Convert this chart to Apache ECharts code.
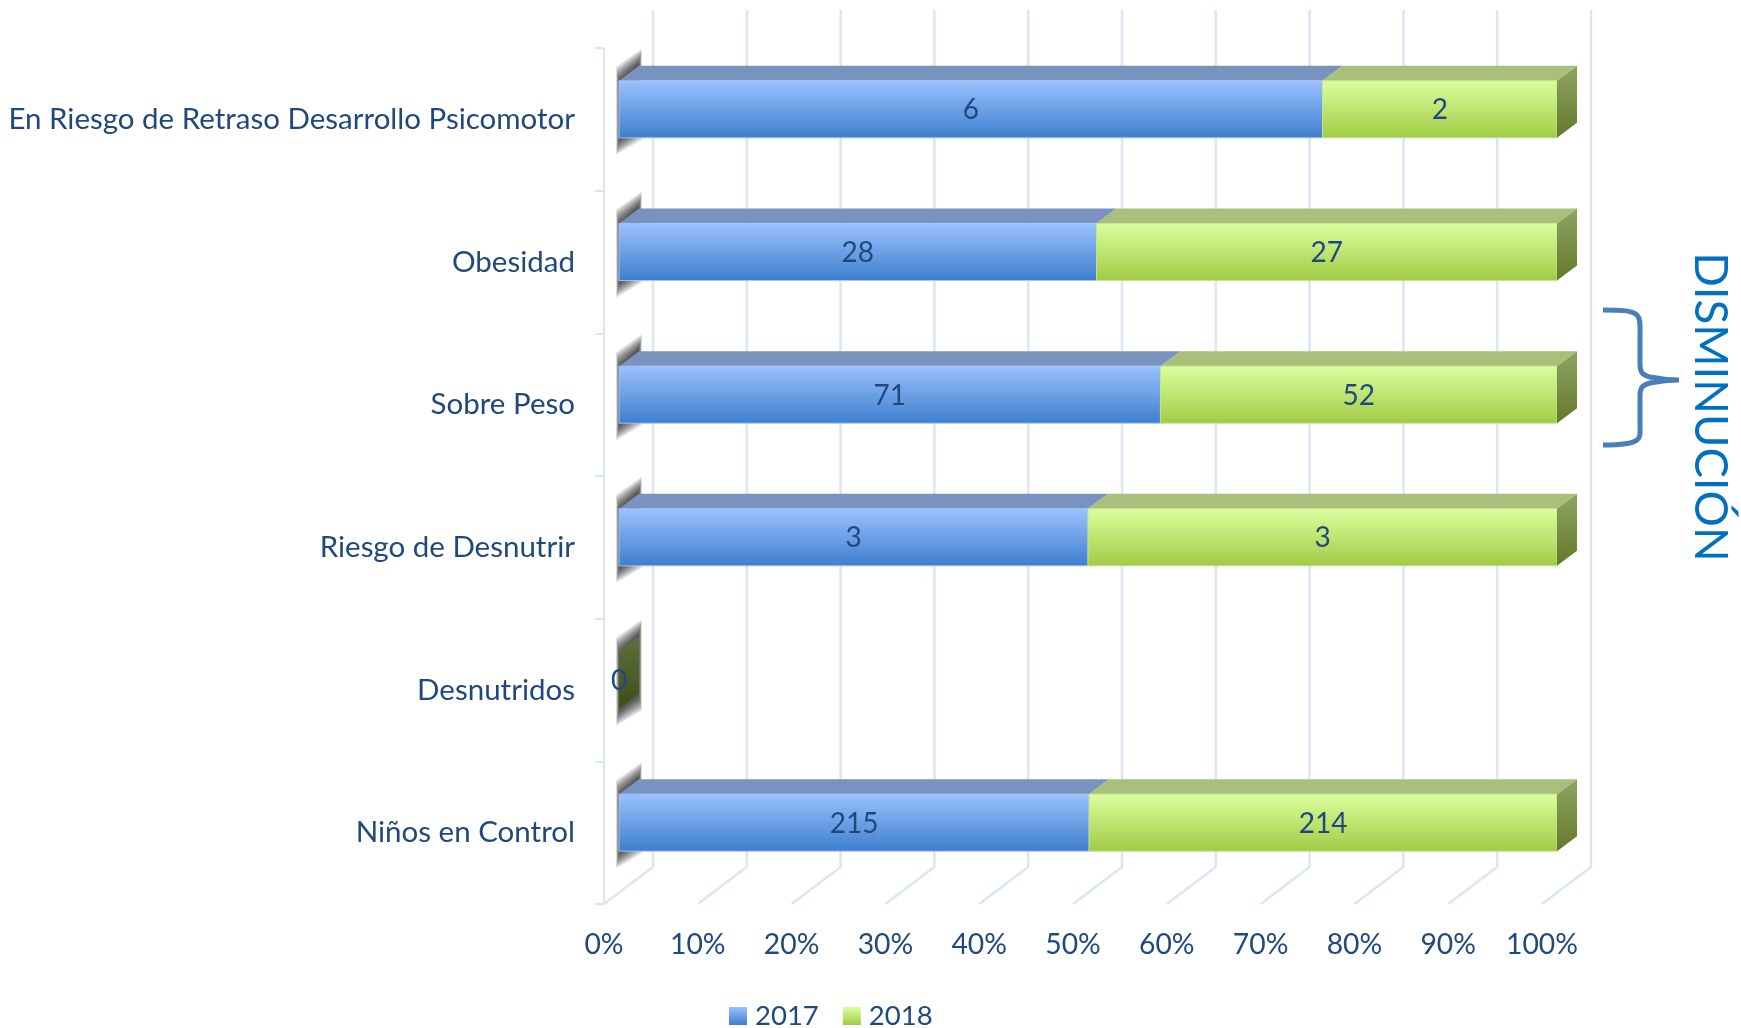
<!DOCTYPE html>
<html>
<head>
<meta charset="utf-8">
<style>
html,body{margin:0;padding:0;background:#fff;}
#chart{width:1741px;height:1028px;}
</style>
<script src="https://cdn.jsdelivr.net/npm/echarts@6/dist/echarts.min.js"></script>
</head>
<body>
<div id="chart"></div>
<script>
// orden de abajo hacia arriba, como el eje de categorias
var categories = ['Niños en Control','Desnutridos','Riesgo de Desnutrir','Sobre Peso','Obesidad','En Riesgo de Retraso Desarrollo Psicomotor'];
var values2017 = [215,0,3,71,28,6];
var values2018 = [214,0,3,52,27,2];
var xTicks = [0,10,20,30,40,50,60,70,80,90,100];

var fontName = 'Lato';
var textColor = '#1f497d';
var gridColor = '#dbe6f5';

// desplazamiento de la barra 3D respecto al plano del eje
var barShiftX = 15, barShiftY = -10;
var depthX = 20, depthY = 15;
// desplazamiento de la pared del fondo
var wallX = 49, wallY = 37;

function vGrad(c0, c1){
	return new echarts.graphic.LinearGradient(0,0,0,1,[{offset:0,color:c0},{offset:1,color:c1}]);
}

var blueStyle = {front:['#9ac2ff','#3e7ecd'],top:'#7992bf',edge:'rgba(170,200,240,.9)'};
var greenStyle = {front:['#dcff9e','#a0cb45'],top:'#a9c07b',edge:'rgba(200,225,150,.9)',side:['#8fa462','#64792a'],sideEmpty:['#5f7040','#3e4e14']};

// de valores a tramos de porcentaje: [inicio, categoria, fin, valor]
function buildRows(isSecond){
	var rows = [];
	for(var i=0;i<categories.length;i++){
		var total = values2017[i]+values2018[i];
		var split = total>0 ? values2017[i]/total*100 : 0;
		if(isSecond){
			rows.push([split,i,total>0?100:0,values2018[i]]);
		}else{
			rows.push([0,i,split,values2017[i]]);
		}
	}
	return rows;
}

// sombra difusa hecha con capas translucidas
function softShadow(x0, yTop, yBot){
	var layers = [];
	for(var k=7;k>=0;k--){
		var gx = k*0.4, gy = k*2;
		layers.push({type:'polygon',shape:{points:[
			[x0-gx,yTop-gy],[x0+depthX+gx,yTop-depthY-3-gy],
			[x0+depthX+gx,yBot-depthY+3+gy],[x0-gx,yBot+3+gy]]},
			style:{fill:'rgba(0,0,0,.12)'}});
	}
	return layers;
}

function renderBar(style, isSecond){
	return function(params, api){
		var a = api.coord([api.value(0),api.value(1)]);
		var b = api.coord([api.value(2),api.value(1)]);
		var h = api.size([0,1])[1]*0.4;
		var x0 = a[0]+barShiftX, x1 = b[0]+barShiftX;
		var yTop = a[1]+barShiftY-h/2, yBot = yTop+h;
		var children = [];
		var empty = api.value(2)===0;
		if(!isSecond){
			children = softShadow(x0,yTop,yBot);
		}
		if(x1>x0){
			children.push({type:'polygon',shape:{points:[[x0,yTop],[x0+depthX,yTop-depthY],[x1+depthX,yTop-depthY],[x1,yTop]]},
				style:{fill:style.top}});
			children.push({type:'rect',shape:{x:x0,y:yTop,width:x1-x0,height:h},
				style:{fill:vGrad(style.front[0],style.front[1]),stroke:style.edge,lineWidth:1}});
		}
		if(isSecond){
			var side = empty ? style.sideEmpty : style.side;
			children.push({type:'polygon',shape:{points:[[x1,yTop],[x1+depthX,yTop-depthY],[x1+depthX,yBot-depthY],[x1,yBot]]},
				style:{fill:vGrad(side[0],side[1])}});
		}
		// en la categoria vacia solo se escribe un cero
		if(!empty || isSecond){
			children.push({type:'text',z2:20,style:{text:String(api.value(3)),x:(x0+x1)/2,y:(yTop+yBot)/2+1,
				textAlign:'center',textVerticalAlign:'middle',fill:textColor,fontSize:28,fontFamily:fontName}});
		}
		return {type:'group',children:children};
	};
}

// pared del fondo y piso
function renderWall(params, api){
	var v = api.value(0);
	var c = api.coord([v,0]);
	var sys = params.coordSys;
	var lineStyle = {stroke:gridColor,lineWidth:2.5,fill:null};
	return {type:'polyline',shape:{points:[[c[0]+wallX,sys.y-wallY-1],[c[0]+wallX,sys.y+sys.height-wallY],[c[0],sys.y+sys.height]]},style:lineStyle};
}

// llave de la anotacion DISMINUCION
function renderBrace(){
	return {type:'path',
		shape:{x:1603,y:310,width:76,height:135,
			pathData:'M1603,308 C1618,308 1632,308 1637,313 C1641,317 1640,325 1640,335 L1640,362 C1640,370 1642,373 1650,375 C1660,377 1670,378 1679,378 C1670,378 1660,379 1650,381 C1642,383 1640,386 1640,394 L1640,420 C1640,430 1641,435 1637,438 C1632,442 1618,443 1603,443'},
		style:{fill:null,stroke:'#4a7ebb',lineWidth:5}};
}

var option = {
	backgroundColor:'#fff',
	animation:false,
	textStyle:{fontFamily:fontName},
	grid:{left:604,top:48,width:938,height:856,containLabel:false},
	xAxis:{
		type:'value',min:0,max:100,interval:10,
		axisLine:{show:false},axisTick:{show:false},splitLine:{show:false},
		axisLabel:{color:textColor,fontSize:28.3,fontFamily:fontName,margin:27,formatter:'{value}%',showMinLabel:true,showMaxLabel:true}
	},
	yAxis:{
		type:'category',data:categories,
		axisLine:{show:true,lineStyle:{color:gridColor,width:2}},
		axisTick:{show:true,length:9,lineStyle:{color:gridColor,width:2}},
		axisLabel:{color:textColor,fontSize:29.5,fontFamily:fontName,margin:29,align:'right',padding:[8,0,0,0]}
	},
	legend:{
		data:['2017','2018'],left:724,top:997,icon:'rect',itemWidth:18,itemHeight:18,itemGap:24,
		textStyle:{color:textColor,fontSize:27.5,fontFamily:fontName,padding:[0,0,0,3]}
	},
	series:[
		{name:'wall',type:'custom',z:1,silent:true,data:xTicks.map(function(v){return [v];}),encode:{x:0},renderItem:renderWall},
		{name:'2017',type:'custom',z:2,itemStyle:{color:{type:'linear',x:0,y:0,x2:0,y2:1,colorStops:[{offset:0,color:'#9ac2ff'},{offset:1,color:'#3e7ecd'}]}},
			data:buildRows(false),encode:{x:[0,2],y:1},renderItem:renderBar(blueStyle,false)},
		{name:'2018',type:'custom',z:3,itemStyle:{color:{type:'linear',x:0,y:0,x2:0,y2:1,colorStops:[{offset:0,color:'#dcff9e'},{offset:1,color:'#a0cb45'}]}},
			data:buildRows(true),encode:{x:[0,2],y:1},renderItem:renderBar(greenStyle,true)},
		{name:'brace',type:'custom',coordinateSystem:'none',z:4,silent:true,data:[[0]],renderItem:renderBrace}
	],
	graphic:[
		{type:'text',z:10,x:1710,y:407,rotation:-Math.PI/2,
			style:{text:'DISMINUCIÓN',textAlign:'center',textVerticalAlign:'middle',fill:'#0070c0',fontSize:45.5,fontFamily:fontName}}
	]
};

var chart = echarts.init(document.getElementById('chart'));
chart.setOption(option);
</script>
</body>
</html>
